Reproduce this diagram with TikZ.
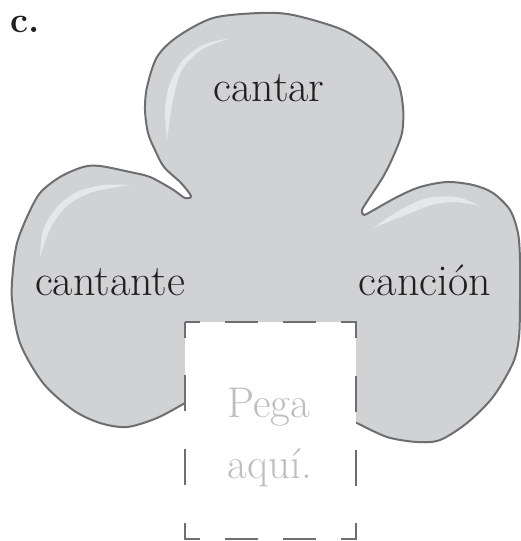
\documentclass[tikz,border=0pt]{standalone}
\definecolor{blobfill}{HTML}{D1D2D4}
\definecolor{blobline}{HTML}{6D6E71}
\definecolor{shine}{HTML}{E6E7E8}
\definecolor{inkblack}{HTML}{231F20}
\definecolor{pastegray}{HTML}{BCBEC0}
\tikzset{
  word/.style={anchor=base, inner sep=0pt, text=inkblack, font=\fontsize{22}{26}\selectfont},
  hint/.style={anchor=base, inner sep=0pt, text=pastegray, font=\fontsize{21.5}{26}\selectfont},
  cutline/.style={blobline, line width=1pt,
    dash pattern=on 15.5pt off 12.5pt on 16.5pt off 12.5pt on 16.5pt off 12.5pt
                 on 15.5pt off 19pt on 18pt off 19pt on 18pt off 18.5pt,
    dash phase=8pt}
}
\begin{document}
\begin{tikzpicture}[x=0.5pt,y=-0.5pt]
    \useasboundingbox (0,0) rectangle (520,541);
    \filldraw[fill=blobfill, draw=blobline, line width=1pt, line join=round]
      plot[smooth, tension=0.5] coordinates {(185,403) (157,418) (127,427) (100,423) (73,410) (43,383) (20,343) (12,300) (13,270) (17,243) (27,217) (40,193) (60,177) (83,167) (100,166) (130,172) (150,177) (172,189) (185,198) (191,196) (181,183) (164,167) (155,150) (148,133) (145,110) (147,87) (157,57) (177,37) (213,18) (260,13) (293,15) (343,30) (377,53) (397,80) (403,107) (402,133) (393,157) (383,177) (370,197) (362,210) (364,215) (372,211) (397,197) (420,187) (447,182) (473,185) (493,193) (510,210) (518,233) (520,260) (520,300) (519,337) (513,363) (493,397) (467,423) (440,440) (417,442) (387,437) (357,423)} -- cycle;
    \fill[shine] plot[smooth, tension=0.5] coordinates {(167,140) (165,110) (170,83) (183,60) (203,45) (230,38)}
      -- plot[smooth, tension=0.5] coordinates {(230,38) (201,50) (182,70) (173,100) (167,140)} -- cycle;
    \fill[shine] plot[smooth, tension=0.5] coordinates {(40,257) (43,230) (57,207) (77,192) (103,185) (130,185)}
      -- plot[smooth, tension=0.5] coordinates {(130,185) (93,192) (68,205) (51,227) (40,257)} -- cycle;
    \fill[shine] plot[smooth, tension=0.5] coordinates {(373,228) (400,210) (427,198) (457,197) (480,206)}
      -- plot[smooth, tension=0.5] coordinates {(480,206) (455,202) (432,205) (403,216) (373,228)} -- cycle;
    \fill[white] (185,322) rectangle (356,539);
    \draw[cutline] (185,322) -- (356,322) -- (356,539) -- (185,539) -- cycle;
    \node[anchor=base west, inner sep=0pt, text=inkblack, font=\fontsize{18}{22}\selectfont\bfseries] (label) at (10,32) {c.};
    \node[word] (cantar) at (269,101) {cantar};
    \node[word] (cantante) at (110,295) {cantante};
    \node[word] (cancion) at (425,295) {canción};
    \node[hint] (pega) at (269,417) {Pega};
    \node[hint] (aqui) at (270,478) {aquí.};
\end{tikzpicture}
\end{document}
